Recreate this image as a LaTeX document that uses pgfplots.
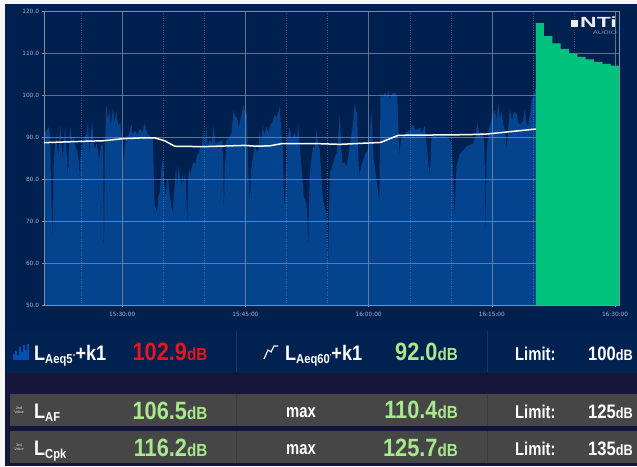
\documentclass[border=0pt]{standalone}
\usepackage{graphicx}
\usepackage{fontspec}
\usepackage{pgfplots}
\pgfplotsset{compat=1.18}
\setmainfont{Liberation Sans}
\newfontfamily\tickfont{DejaVu Sans}
\definecolor{bgnavy}{HTML}{00204F}
\definecolor{rownavy}{HTML}{012250}
\definecolor{rowdark}{HTML}{15153A}
\definecolor{rowgray}{HTML}{464646}
\definecolor{areablue}{HTML}{04448F}
\definecolor{gridc}{HTML}{7F8FA8}
\definecolor{tickc}{HTML}{A9B4C4}
\definecolor{limegreen}{HTML}{00C27C}
\definecolor{valgreen}{HTML}{A9E88C}
\definecolor{valred}{HTML}{E8141E}
\newcommand\fs[1]{\fontsize{#1}{#1}\selectfont}
\newcommand\val[2]{\scalebox{.87}[1]{\bfseries\color{#1}\fs{25}#2\fs{17.5}dB}}
\newcommand\limval[1]{\scalebox{.85}[1]{\bfseries\color{white}\fs{19.5}#1\fs{15}dB}}
\newcommand\lbl[2]{\scalebox{.86}[1]{\bfseries\color{white}\fs{21}L\raisebox{-3.5pt}{\fs{13}#1}#2}}
\newcommand\word[1]{\scalebox{.8}[1]{\bfseries\color{white}\fs{18.5}#1}}

\pgfplotstableread{
x y
-9.52 90.9
-9.1 91.8
-8.9 92.4
-8.78 90
-8.68 80
-8.45 64.7
-8.35 83
-8.2 88
-8.02 90.6
-7.9 87
-7.8 85.5
-7.68 88.5
-7.52 92.8
-7.42 89
-7.25 84.5
-7.1 88.5
-6.94 92.6
-6.82 88
-6.62 80.5
-6.48 87
-6.32 92.4
-6.1 89
-5.9 90
-5.75 88
-5.5 87
-5.28 84
-5.18 79.8
-5.08 85
-4.9 88
-4.6 90
-4.35 90.5
-4.17 93.8
-4.05 89
-3.96 85.3
-3.85 90
-3.65 94
-3.5 89
-3.35 87
-3.1 88.5
-2.8 84.5
-2.6 88
-2.32 88
-2.22 56.7
-2.12 88
-2.0 92
-1.93 98
-1.75 94
-1.55 96.5
-1.4 92.5
-1.12 97.2
-0.95 93.5
-0.7 96
-0.5 92.5
-0.22 93.6
-0.05 90
0.18 83.7
0.32 88
0.5 90
0.8 90.5
1.12 93
1.3 90.5
1.55 91.5
1.85 90.5
2.15 92
2.45 91
2.75 93.4
3.0 91
3.2 90.5
3.75 89.6
3.85 80
3.96 73.4
4.1 73
4.24 71.8
4.4 76
4.57 76.6
4.75 82
4.97 85.3
5.12 79
5.3 75.8
5.45 79.5
5.58 80
5.8 76
6.11 71.8
6.25 75
6.39 78.5
6.55 83
6.7 78
6.88 83
7.05 80
7.21 78.2
7.35 81
7.5 78.8
7.61 81.5
7.78 79
7.9 68.6
8.02 79
8.14 82.5
8.3 81
8.63 84
8.9 83.5
9.1 85.5
9.36 86.3
9.55 88
9.7 87
9.85 92
10.02 87
10.25 92.6
10.42 88
10.66 89.3
10.9 88.5
11.14 92.6
11.3 88.5
11.47 88.5
12.2 89.3
12.3 82
12.38 71.8
12.48 82
12.69 89.3
13.0 89.8
13.3 91
13.58 96.4
13.75 95
13.99 94.6
14.2 92
14.35 94
14.5 95
14.8 97.8
15.0 95
15.2 96
15.3 85
15.53 73.4
15.68 82
15.9 85
16.14 88
16.4 86.5
16.6 87
16.75 91.7
16.9 89
17.15 92.6
17.3 90.5
17.56 92.4
17.8 91
18.05 93
18.3 93.5
18.57 95.3
18.8 94.5
19.18 97.2
19.38 91
19.55 87
19.7 75
19.79 73.4
19.92 80
20.08 89.5
20.4 92.3
20.65 89.5
21.01 91
21.25 89.5
21.42 93
21.6 88
21.82 83
22.11 75.8
22.43 74.2
22.55 70
22.63 63.1
22.72 72
22.84 81.3
23.05 85
23.24 87.8
23.45 87
23.65 91.8
23.85 88
24.05 87
24.25 80
24.46 75
24.7 73
24.87 71.8
24.98 66
25.07 59.1
25.16 70
25.27 81.3
25.5 82.5
25.88 85.3
26.1 86
26.3 90
26.49 95.4
26.65 88
26.82 83.7
27.05 84
27.3 82.9
27.5 85
27.71 88
27.95 91
28.15 94
28.32 98.2
28.48 96
28.6 95.6
28.75 85
28.85 80.5
29.1 83
29.33 84.5
29.6 86
29.94 87
30.15 91
30.35 96.6
30.5 88
30.63 84.5
30.96 79.8
31.2 76
31.3 75
31.38 88
31.45 100.4
31.7 99.5
32.0 100.6
32.18 99.6
32.4 100.8
32.58 98.8
32.85 100.4
33.19 100.6
33.48 99.6
33.62 92
33.72 85.3
33.85 88
34.0 89.6
34.3 90.5
34.61 91
35.0 91.6
35.42 93
35.7 91.5
36.24 92.2
36.5 91
36.85 92.6
37.0 89
37.13 86.9
37.3 83
37.46 80.5
37.56 86
37.66 90.1
38.06 90.3
38.5 89.9
39.0 90.2
39.48 90.1
39.8 89.5
40.09 88.5
40.28 82
40.46 70.2
40.58 78
40.7 83
41.11 86.1
41.5 86.8
41.92 87.7
42.3 88
42.73 88.5
43.0 90
43.22 93.4
43.45 91
43.95 91
44.12 86
44.24 65.5
44.36 86
44.56 91
44.85 93.4
45.1 95
45.37 96.6
45.55 94
45.78 98
45.98 94.5
46.18 96
46.4 93
46.65 91
46.79 86.9
46.95 91
47.2 96.6
47.45 94
47.7 96
48.01 95.6
48.3 93
48.62 93.3
48.82 94
49.02 96.6
49.25 93
49.43 92.5
49.65 95.5
49.84 98.8
50.1 100
50.37 102
}\laeqfive

\pgfplotstableread{
x y
50.37 117.1
51.34 114.0
52.36 112.3
53.37 111.0
54.39 109.9
55.40 109.1
56.42 108.5
57.43 107.9
58.45 107.4
59.46 107.0
60.48 107.0
}\laeqnow

\pgfplotstableread{
x y
-9.52 88.65
-4.77 88.97
-2.33 89.1
0.10 89.6
2.54 89.8
3.96 89.8
5.18 89.1
6.39 87.8
9.85 87.7
14.92 88.0
16.34 87.8
17.97 87.9
19.39 88.4
24.05 88.4
26.49 88.25
31.45 88.7
33.60 90.4
41.92 90.55
44.36 90.7
50.37 91.9
}\laeqsixty

\pgfplotsset{plotframe/.style={
    at={(44pt,161pt)},
    anchor=south west,
    scale only axis,
    width=575pt,
    height=294pt,
    xmin=-9.52,
    xmax=60.48,
    ymin=50,
    ymax=120,
}}

\begin{document}
\begin{tikzpicture}
\useasboundingbox (0,0) rectangle (637pt,466pt);
\fill[bgnavy] (0,0) rectangle (637pt,466pt);

\begin{axis}[
    plotframe,
    axis on top,
    axis line style={gridc,line width=.6pt},
    tick style={gridc,line width=.5pt},
    tick align=outside,
    major tick length=2.5pt,
    minor tick length=0pt,
    xtick={0,15,30,45,60},
    xticklabels={15:30:00,15:45:00,16:00:00,16:15:00,16:30:00},
    minor xtick={-5,5,10,20,25,35,40,50,55},
    ytick={50,60,...,120},
    xtick pos=bottom,
    ytick pos=left,
    grid=both,
    major grid style={gridc,line width=.55pt,opacity=.75},
    minor grid style={gridc,line width=.35pt,dotted,opacity=.45},
    tick label style={font=\tickfont\fs{5.8},text=tickc},
    yticklabel style={
        /pgf/number format/fixed,
        /pgf/number format/fixed zerofill,
        /pgf/number format/precision=1,
        /pgf/number format/assume math mode=true,
        xshift=1pt,
    },
    xticklabel style={yshift=-1pt},
]
\addplot[fill=areablue,draw=none] table {\laeqfive} \closedcycle;
\end{axis}

\begin{axis}[plotframe,hide axis]
\addplot[fill=limegreen,draw=none,const plot mark left] table {\laeqnow} \closedcycle;
\addplot[white,line width=1.5pt] table {\laeqsixty};
\end{axis}

% page margins and readout rows, written in reference pixels
\begin{scope}[shift={(0,466pt)},x=1pt,y=-1pt]
\fill[rownavy] (0,330) rectangle (637,373);
\fill[rowdark] (0,373) rectangle (637,466);
\fill[rowgray] (10,394) rectangle (637,426);
\fill[rowgray] (10,431) rectangle (637,463);
\foreach \sx in {236,487} {
    \draw[bgnavy!90!white,line width=.3pt] (\sx,331) -- (\sx,372);
    \draw[rowdark!25!rowgray,line width=.3pt] (\sx,394) -- (\sx,426);
    \draw[rowdark!25!rowgray,line width=.3pt] (\sx,431) -- (\sx,463);
}
\fill[white!93!gray] (0,0) rectangle (637,4);
\fill[white!93!gray] (0,0) rectangle (5,466);

% logo
\fill[white!85!gray] (571,20) rectangle (578,27.5);
\node[anchor=base west,inner sep=0pt,text=white!85!gray] at (580,27.5) {\scalebox{1.56}[1]{\bfseries\fs{14.7}NTi}};
\node[anchor=base east,inner sep=0pt,text=gridc] at (617,35) {\scalebox{1.4}[1]{\fs{5.4}AUDIO}};

% legend icons
\foreach \bx/\by in {13/354,15/351,17/355,19/347,21/352,23/345,25/350,27/344} {
    \fill[blue!55!cyan!70!black] (\bx,360) rectangle (\bx+1.7,\by);
}
\draw[white!85!gray,line width=1.2pt] (264,359) -- (268,350) -- (271,352) -- (274,346) -- (278,346);

% readouts
\node[anchor=base west,inner sep=0pt] at (34,360) {\lbl{Aeq5\raisebox{4pt}{\fs{7}''}}{+k1}};
\node[anchor=base west,inner sep=0pt] at (285,360) {\lbl{Aeq60\raisebox{4pt}{\fs{7}'}}{+k1}};
\node[anchor=base west,inner sep=0pt] at (34,418) {\lbl{AF}{}};
\node[anchor=base west,inner sep=0pt] at (34,455) {\lbl{Cpk}{}};

\node[anchor=base east,inner sep=0pt] at (207.5,360) {\val{valred}{102.9}};
\node[anchor=base east,inner sep=0pt] at (458,361) {\val{valgreen}{92.0}};
\node[anchor=base east,inner sep=0pt] at (207.5,419) {\val{valgreen}{106.5}};
\node[anchor=base east,inner sep=0pt] at (458,418) {\val{valgreen}{110.4}};
\node[anchor=base east,inner sep=0pt] at (207.5,456) {\val{valgreen}{116.2}};
\node[anchor=base east,inner sep=0pt] at (458,456) {\val{valgreen}{125.7}};

\node[anchor=base,inner sep=0pt] at (301,417) {\word{max}};
\node[anchor=base,inner sep=0pt] at (301,454) {\word{max}};

\node[anchor=base west,inner sep=0pt] at (515,360) {\word{Limit:}};
\node[anchor=base west,inner sep=0pt] at (515,418) {\word{Limit:}};
\node[anchor=base west,inner sep=0pt] at (515,455) {\word{Limit:}};
\node[anchor=base east,inner sep=0pt] at (633,360) {\limval{100}};
\node[anchor=base east,inner sep=0pt] at (633,418) {\limval{125}};
\node[anchor=base east,inner sep=0pt] at (633,455) {\limval{135}};

\node[align=center,inner sep=0pt,text=white!75!gray,font=\fs{3.8}] at (19,410.5) {2nd\\Value};
\node[align=center,inner sep=0pt,text=white!75!gray,font=\fs{3.8}] at (19,447.5) {3rd\\Value};
\end{scope}
\end{tikzpicture}
\end{document}
